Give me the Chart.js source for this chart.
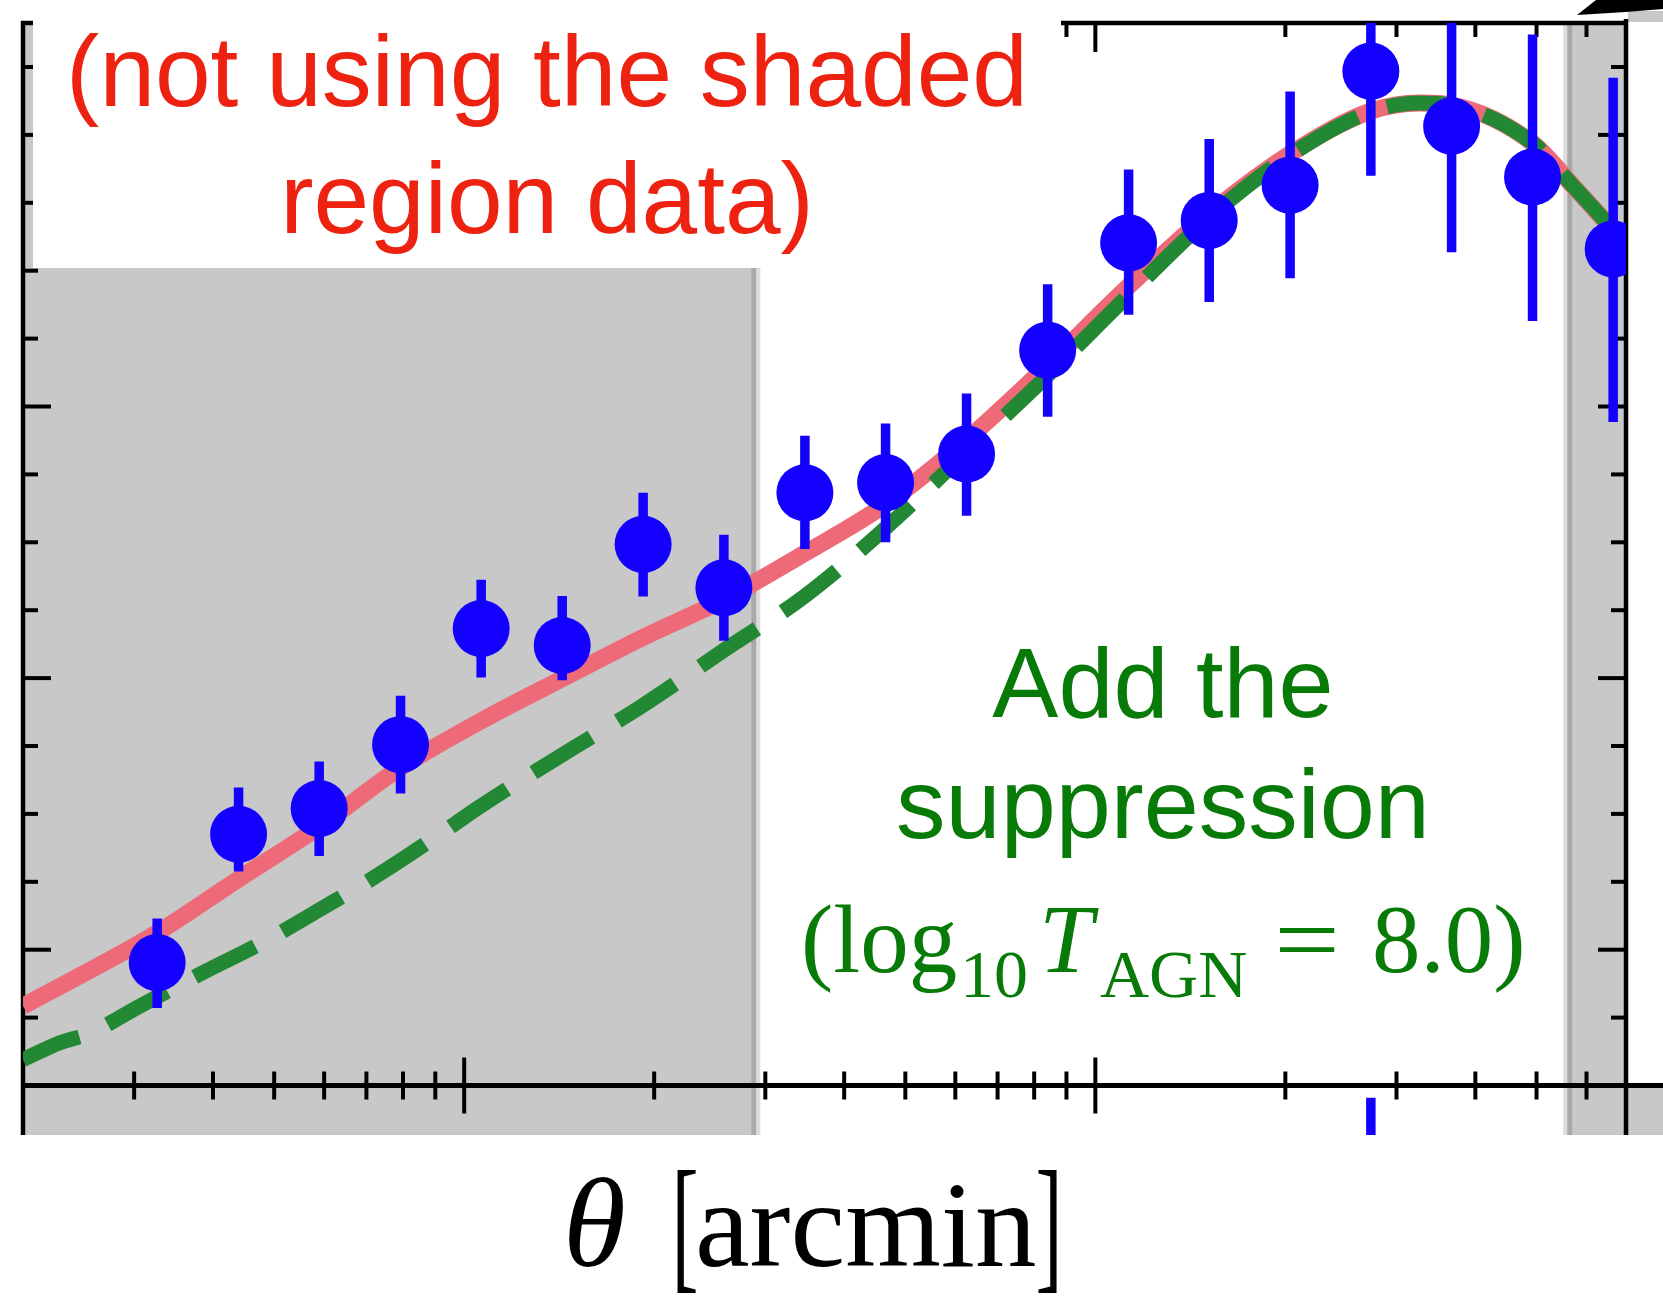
<!DOCTYPE html>
<html>
<head>
<meta charset="utf-8">
<script src="https://cdn.jsdelivr.net/npm/chart.js@4.4.1/dist/chart.umd.min.js"></script>
<style>
  html, body { margin: 0; padding: 0; background: #fff; overflow: hidden; }
  canvas { display: block; }
</style>
</head>
<body>
<canvas id="thetaChart" width="1663" height="1297"></canvas>
<script>
// measured points: theta [arcmin], signal in y-tick units
const theta   = [0.3263, 0.4391, 0.5892, 0.7929, 1.064, 1.430, 1.921, 2.579, 3.466, 4.652,
                 6.251, 8.403, 11.29, 15.15, 20.35, 27.32, 36.68, 49.28, 66.13];
const signal  = [1.81, 3.70, 4.08, 5.02, 6.73, 6.48, 7.97, 7.33, 8.73, 8.88,
                 9.30, 10.83, 12.41, 12.74, 13.26, 14.94, 14.13, 13.38, 12.32];
const errLow  = [1.14, 3.15, 3.38, 4.30, 6.01, 5.97, 7.20, 6.55, 7.90, 8.00,
                 8.39, 9.85, 11.35, 11.54, 11.89, 13.40, 12.27, 11.26, 9.77];
const errHigh = [2.46, 4.39, 4.77, 5.74, 7.45, 7.21, 8.73, 8.11, 9.57, 9.75,
                 10.19, 11.80, 13.49, 13.94, 14.64, 16.48, 15.99, 15.48, 14.84];

// stray error bar showing below the axis line
const belowTheta = [27.32];
const belowTop = [-0.18];
const belowBottom = [-1.5];

// model without suppression (red, solid)
const redTheta = [0.2, 0.3263, 0.4391, 0.5892, 0.7929, 1.064, 1.430, 1.921, 2.579, 3.466,
                  4.652, 6.251, 8.403, 11.29, 15.15, 20.35, 27.32, 32.67, 36.68, 49.28,
                  57.09, 64.63, 69.52];
const redY     = [1.17, 2.25, 3.04, 3.81, 4.68, 5.37, 5.99, 6.60, 7.16, 7.84,
                  8.56, 9.51, 10.61, 11.77, 12.84, 13.72, 14.35, 14.47, 14.44, 13.88,
                  13.25, 12.70, 12.35];

// model with suppression, log10 T_AGN = 8.0 (green, dashed)
const greenTheta = [0.2, 0.2288, 0.2553, 0.3063, 0.3814, 0.4868, 0.5904, 0.7273, 0.9152, 1.064,
                    1.430, 1.921, 2.579, 3.466, 4.652, 6.251, 8.403, 11.29, 15.15, 20.35,
                    27.32, 32.67, 36.68, 49.28, 57.09, 64.63, 69.52];
const greenY     = [0.38, 0.63, 0.77, 1.17, 1.64, 2.14, 2.59, 3.09, 3.70, 4.12,
                    4.87, 5.60, 6.41, 7.21, 8.21, 9.33, 10.46, 11.64, 12.78, 13.70,
                    14.34, 14.47, 14.44, 13.88, 13.25, 12.70, 12.35];

// shaded (excluded) theta ranges
const shadeLow  = [0.2, 56.43];
const shadeHigh = [2.877, 69.3];

// tick positions
const xMajorTicks = [1, 10];
const xMinorTicks = [0.3, 0.4, 0.5, 0.6, 0.7, 0.8, 0.9, 2, 3, 4, 5, 6, 7, 8, 9, 20, 30, 40, 50, 60];
const yMajorTicks = [2, 6, 10, 14];
const yMinorTicks = [1, 3, 4, 5, 7, 8, 9, 11, 12, 13, 15];

const BLUE = '#1400FF';
const SERIF = '"Liberation Serif", "Times New Roman", serif';
const SANS = '"Liberation Sans", Arial, sans-serif';

function line(ctx, x1, y1, x2, y2) {
    ctx.beginPath();
    ctx.moveTo(x1, y1);
    ctx.lineTo(x2, y2);
    ctx.stroke();
}

// draws text so its ink starts at `left`; baseline given, or ink top when top is set
function inkText(ctx, str, font, left, base, opts = {}) {
    const sx = opts.sx || 1;
    ctx.font = font;
    ctx.textAlign = 'left';
    const m = ctx.measureText(str);
    if (opts.right) left = left - sx * (m.actualBoundingBoxLeft + m.actualBoundingBoxRight);
    if (opts.top) base = base + m.actualBoundingBoxAscent;
    ctx.save();
    ctx.translate(left, base);
    ctx.scale(sx, 1);
    ctx.fillText(str, m.actualBoundingBoxLeft, 0);
    ctx.restore();
}

const framePlugin = {
    id: 'frame',
    beforeDatasetsDraw(chart) {
        const { ctx, chartArea: a, scales: { x, y } } = chart;
        const y0 = y.getPixelForValue(0);
        ctx.save();

        // shaded regions
        for (let i = 0; i < shadeLow.length; i++) {
            const x1 = x.getPixelForValue(shadeLow[i]);
            const x2 = x.getPixelForValue(shadeHigh[i]);
            ctx.fillStyle = '#C8C8C8';
            ctx.fillRect(x1, a.top, x2 - x1, a.bottom - a.top);
            const edgeRight = i === 0;
            const ex = edgeRight ? x2 : x1;
            ctx.fillStyle = '#DCDCDC';
            ctx.fillRect(edgeRight ? ex + 2.5 : ex - 6.5, a.top, 4, a.bottom - a.top);
            ctx.fillStyle = '#A9A9A9';
            ctx.fillRect(ex - 2.5, a.top, 5, a.bottom - a.top);
        }
        // bits outside the frame on the right
        ctx.fillStyle = '#C8C8C8';
        ctx.fillRect(a.right, y0, chart.width - a.right, a.bottom - y0);
        ctx.fillRect(a.right + 2, a.top - 12, chart.width - a.right, 11);
        ctx.fillStyle = '#000';
        ctx.beginPath();
        ctx.moveTo(a.right - 49, a.top - 8);
        ctx.lineTo(a.right - 30, 0);
        ctx.lineTo(chart.width, 0);
        ctx.lineTo(chart.width, a.top - 14);
        ctx.lineTo(a.right, a.top - 11);
        ctx.closePath();
        ctx.fill();

        // frame and axis line
        ctx.strokeStyle = '#000';
        ctx.lineCap = 'butt';
        ctx.lineWidth = 4.5;
        line(ctx, a.left, a.top - 2, a.left, a.bottom);
        line(ctx, a.right, a.top - 4, a.right, a.bottom);
        line(ctx, a.left - 2, a.top, a.right + 2, a.top);
        ctx.lineWidth = 5;
        line(ctx, a.left - 2, y0, chart.width, y0);

        // ticks
        ctx.lineWidth = 4;
        xMinorTicks.forEach(v => {
            const px = x.getPixelForValue(v);
            line(ctx, px, y0 - 14, px, y0 + 14);
            line(ctx, px, a.top, px, a.top + 14);
        });
        xMajorTicks.forEach(v => {
            const px = x.getPixelForValue(v);
            line(ctx, px, y0 - 28, px, y0 + 28);
            line(ctx, px, a.top, px, a.top + 29);
        });
        yMinorTicks.forEach(v => {
            const py = y.getPixelForValue(v);
            line(ctx, a.left, py, a.left + 15, py);
            line(ctx, a.right - 15, py, a.right, py);
        });
        yMajorTicks.forEach(v => {
            const py = y.getPixelForValue(v);
            line(ctx, a.left, py, a.left + 28, py);
            line(ctx, a.right - 28, py, a.right, py);
        });

        // white label box over the top-left
        ctx.fillStyle = '#fff';
        ctx.fillRect(a.left + 10, 0, 1061 - a.left - 10, 268);
        ctx.fillStyle = '#EE2211';
        ctx.font = '100px ' + SANS;
        ctx.textAlign = 'center';
        ctx.textBaseline = 'alphabetic';
        ctx.fillText('(not using the shaded', 547, 106);
        ctx.fillText('region data)', 547, 233);
        ctx.restore();
    },
    afterDatasetsDraw(chart) {
        const { ctx } = chart;
        ctx.save();
        ctx.textBaseline = 'alphabetic';

        // green annotation
        ctx.fillStyle = '#077A07';
        ctx.font = '99px ' + SANS;
        ctx.textAlign = 'center';
        ctx.fillText('Add the', 1163, 717);
        ctx.fillText('suppression', 1163, 838);
        inkText(ctx, '(log', '97px ' + SERIF, 805, 972);
        inkText(ctx, '10', '68px ' + SERIF, 965, 997);
        inkText(ctx, 'T', 'italic 97px ' + SERIF, 1045, 972);
        inkText(ctx, 'AGN', '68px ' + SERIF, 1100, 997);
        inkText(ctx, '=', '97px ' + SERIF, 1279, 972, { sx: 1.2 });
        inkText(ctx, '8.0)', '97px ' + SERIF, 1375, 972);

        // x axis title
        ctx.fillStyle = '#000';
        inkText(ctx, '\u03B8', 'italic 128px ' + SERIF, 569, 1177, { top: true });
        inkText(ctx, '[', '148px ' + SERIF, 677, 1170, { top: true, sx: 0.55 });
        inkText(ctx, 'arcmin', '123px ' + SERIF, 699, 1266);
        inkText(ctx, ']', '148px ' + SERIF, 1057, 1170, { top: true, sx: 0.55, right: true });
        ctx.restore();
    }
};

const errorSegments = [];
theta.forEach((t, i) => {
    errorSegments.push({ x: t, y: errLow[i] }, { x: t, y: errHigh[i] }, { x: t, y: null });
});
belowTheta.forEach((t, i) => {
    errorSegments.push({ x: t, y: belowBottom[i] }, { x: t, y: belowTop[i] }, { x: t, y: null });
});

const ctx = document.getElementById('thetaChart').getContext('2d');
new Chart(ctx, {
    type: 'scatter',
    data: {
        datasets: [
            {
                label: 'data',
                data: theta.map((t, i) => ({ x: t, y: signal[i] })),
                pointRadius: 28.5,
                pointBackgroundColor: BLUE,
                pointBorderWidth: 0,
                order: 0
            },
            {
                label: 'errors',
                data: errorSegments,
                showLine: true,
                spanGaps: false,
                borderColor: BLUE,
                borderWidth: 9.5,
                borderCapStyle: 'butt',
                pointRadius: 0,
                order: 1
            },
            {
                label: 'with suppression',
                data: greenTheta.map((t, i) => ({ x: t, y: greenY[i] })),
                showLine: true,
                borderColor: '#228833',
                borderWidth: 15,
                borderDash: [68, 31],
                borderDashOffset: 7,
                borderCapStyle: 'butt',
                cubicInterpolationMode: 'monotone',
                pointRadius: 0,
                order: 2
            },
            {
                label: 'no suppression',
                data: redTheta.map((t, i) => ({ x: t, y: redY[i] })),
                showLine: true,
                borderColor: '#EE6A78',
                borderWidth: 17,
                cubicInterpolationMode: 'monotone',
                pointRadius: 0,
                order: 3
            }
        ]
    },
    options: {
        responsive: false,
        devicePixelRatio: 1,
        animation: false,
        events: [],
        layout: { autoPadding: false, padding: { left: 23, top: 23, right: 37, bottom: 162 } },
        scales: {
            x: { type: 'logarithmic', min: 0.2, max: 69.3, display: false },
            y: { type: 'linear', min: -0.729, max: 15.648, display: false }
        },
        plugins: {
            legend: { display: false },
            tooltip: { enabled: false }
        }
    },
    plugins: [framePlugin]
});
</script>
</body>
</html>
